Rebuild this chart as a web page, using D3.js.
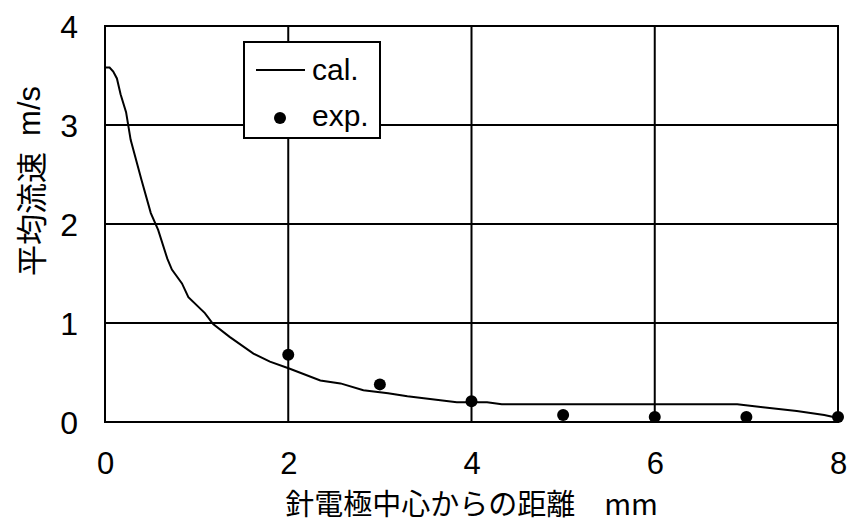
<!DOCTYPE html>
<html><head><meta charset="utf-8">
<script src="https://cdn.jsdelivr.net/npm/d3@7"></script>
<style>
html,body{margin:0;padding:0;background:#fff;}
svg{display:block;}
</style></head>
<body>
<svg id="chart" width="853" height="524"></svg>
<script>
// calculated mean flow velocity along the distance from the needle electrode
const calX = [0.01,0.05,0.09,0.13,0.17,0.23,0.28,0.40,0.50,0.58,0.68,0.73,0.84,0.91,1.09,1.18,1.36,1.62,1.80,2.01,2.35,2.57,2.82,3.09,3.30,3.66,3.84,4.17,4.33,6.90,7.18,7.55,7.85,8.00];
const calY = [3.58,3.58,3.54,3.47,3.31,3.13,2.85,2.44,2.11,1.94,1.65,1.54,1.40,1.26,1.10,0.99,0.86,0.69,0.61,0.54,0.42,0.39,0.32,0.29,0.26,0.22,0.20,0.20,0.18,0.18,0.15,0.11,0.07,0.04];
// measured values
const expX = [2,3,4,5,6,7,8];
const expY = [0.68,0.38,0.21,0.07,0.05,0.05,0.05];
const xTicks = [0,2,4,6,8];
const yTicks = [0,1,2,3,4];
const xTitle = "針電極中心からの距離　mm";
const yTitleMain = "平均流速";
const yTitleUnit = "m/s";
const legendLabels = ["cal.","exp."];

const svg = d3.select("#chart");
const L = 105, R = 838, T = 26, B = 422;
const x = d3.scaleLinear().domain([0,8]).range([L,R]);
const y = d3.scaleLinear().domain([0,4]).range([B,T]);
const numFont = "'Liberation Sans', Arial, sans-serif";
const jpFont = "'Noto Sans CJK JP', 'Noto Sans', sans-serif";

// grid
const g = svg.append("g");
g.selectAll("line.gx").data(xTicks.slice(1,-1)).join("line")
  .attr("x1",d=>x(d)).attr("x2",d=>x(d)).attr("y1",T).attr("y2",B)
  .attr("stroke","#000").attr("stroke-width",2);
g.selectAll("line.gy").data(yTicks.slice(1,-1)).join("line")
  .attr("y1",d=>y(d)).attr("y2",d=>y(d)).attr("x1",L).attr("x2",R)
  .attr("stroke","#000").attr("stroke-width",2);

// tick labels
const xAxis = d3.axisBottom(x).tickValues(xTicks).tickSize(0).tickPadding(0).tickFormat(d3.format("d"));
const ax = svg.append("g").attr("transform",`translate(0,${B})`).call(xAxis);
ax.select(".domain").remove();
ax.selectAll("text").attr("dy",null).attr("y",52).attr("font-family",numFont).attr("font-size",31).attr("fill","#000");
const yAxis = d3.axisLeft(y).tickValues(yTicks).tickSize(0).tickPadding(0).tickFormat(d3.format("d"));
const ay = svg.append("g").attr("transform",`translate(78,0)`).call(yAxis);
ay.select(".domain").remove();
ay.selectAll("text").attr("dy","0.36em").attr("x",0).attr("font-family",numFont).attr("font-size",32).attr("fill","#000");

// frame
svg.append("rect").attr("x",L).attr("y",T).attr("width",R-L).attr("height",B-T)
  .attr("fill","none").attr("stroke","#000").attr("stroke-width",2);

// calculated curve
const line = d3.line().x(d=>x(d[0])).y(d=>y(d[1]));
svg.append("path").datum(calX.map((v,i)=>[v,calY[i]]))
  .attr("d",line).attr("fill","none").attr("stroke","#000").attr("stroke-width",2);

// measured points
svg.selectAll("circle.exp").data(expX.map((v,i)=>[v,expY[i]])).join("circle")
  .attr("cx",d=>x(d[0])).attr("cy",d=>y(d[1])).attr("r",6).attr("fill","#000");

// legend
const lg = svg.append("g");
lg.append("rect").attr("x",244).attr("y",42).attr("width",136).attr("height",96)
  .attr("fill","#fff").attr("stroke","#000").attr("stroke-width",2);
lg.append("line").attr("x1",256).attr("x2",305).attr("y1",70).attr("y2",70)
  .attr("stroke","#000").attr("stroke-width",2);
lg.append("circle").attr("cx",280).attr("cy",118).attr("r",6).attr("fill","#000");
lg.append("text").attr("x",312).attr("y",80).text(legendLabels[0])
  .attr("font-family",numFont).attr("font-size",30);
lg.append("text").attr("x",312).attr("y",126).text(legendLabels[1])
  .attr("font-family",numFont).attr("font-size",30);

// axis titles
svg.append("text").attr("x",(L+R)/2).attr("y",515).attr("text-anchor","middle").text(xTitle)
  .attr("font-family",jpFont).attr("font-size",29);
const yt = svg.append("g").attr("transform","translate(43,0) rotate(-90)");
yt.append("text").attr("x",-276).attr("y",0).text(yTitleMain)
  .attr("font-family",jpFont).attr("font-size",31);
yt.append("text").attr("x",-86).attr("y",-3).attr("text-anchor","end").text(yTitleUnit)
  .attr("font-family",numFont).attr("font-size",31);
</script>
</body></html>
